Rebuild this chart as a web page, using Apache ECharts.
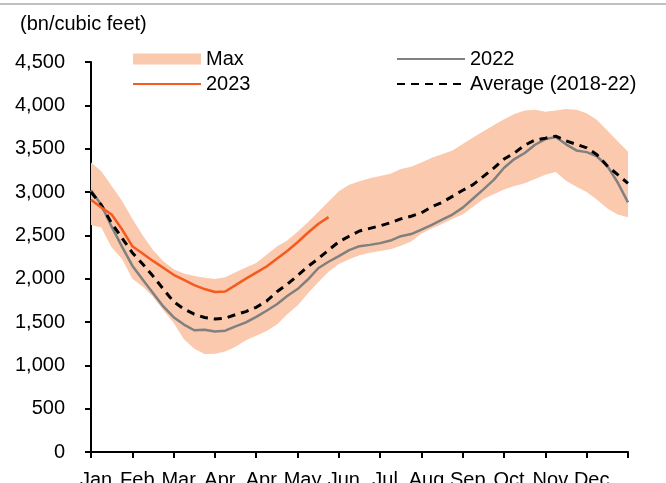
<!DOCTYPE html>
<html>
<head>
<meta charset="utf-8">
<script src="https://cdn.jsdelivr.net/npm/echarts@6/dist/echarts.min.js"></script>
<style>
html,body{margin:0;padding:0;background:#fff;}
#chart{width:666px;height:483px;}
</style>
</head>
<body>
<div id="chart"></div>
<script>
// weekly index (0..52), ticks every 4 weeks
const weeks = ['0','1','2','3','4','5','6','7','8','9','10','11','12','13','14','15','16','17','18','19','20','21','22','23','24','25','26','27','28','29','30','31','32','33','34','35','36','37','38','39','40','41','42','43','44','45','46','47','48','49','50','51','52'];
const monthLabels = ['Jan','Feb','Mar','Apr','Apr','May','Jun','Jul','Aug','Sep','Oct','Nov','Dec',''];
const yTickLabels = ['0','500','1,000','1,500','2,000','2,500','3,000','3,500','4,000','4,500'];

const maxVals = [3340,3240,3070,2900,2690,2500,2330,2200,2110,2060,2030,2010,1995,2015,2075,2130,2180,2275,2370,2440,2540,2650,2770,2890,3010,3085,3125,3160,3185,3210,3265,3290,3340,3395,3435,3480,3555,3630,3700,3770,3840,3900,3940,3950,3925,3940,3958,3950,3910,3830,3710,3585,3465];
const minVals = [2620,2590,2360,2230,2000,1910,1790,1635,1490,1300,1190,1130,1135,1160,1215,1290,1340,1395,1470,1590,1690,1830,1960,2080,2170,2225,2270,2300,2320,2340,2380,2430,2520,2580,2630,2690,2740,2830,2920,2975,3030,3070,3100,3150,3200,3230,3130,3060,3000,2910,2810,2740,2710];
const vals2022 = [3020,2850,2600,2370,2150,1990,1835,1680,1555,1470,1405,1410,1390,1400,1450,1495,1560,1630,1705,1800,1880,1990,2120,2195,2260,2330,2375,2390,2410,2440,2490,2515,2565,2620,2680,2740,2820,2925,3030,3140,3280,3380,3450,3545,3610,3635,3550,3480,3460,3410,3300,3110,2880];
const valsAvg = [3000,2850,2640,2470,2300,2170,2030,1880,1735,1650,1590,1552,1535,1545,1585,1620,1670,1740,1850,1935,2035,2140,2230,2330,2425,2490,2550,2580,2610,2645,2690,2720,2760,2830,2880,2950,3020,3085,3180,3275,3380,3450,3540,3600,3620,3645,3590,3550,3510,3430,3300,3200,3100];
const vals2023 = [2910,2820,2740,2570,2375,2290,2205,2125,2045,1985,1925,1880,1847,1852,1925,2000,2070,2140,2230,2320,2420,2530,2630,2710];

const FONT = '"Liberation Sans", Arial, sans-serif';
const BAND = '#FBC9AE';

const chart = echarts.init(document.getElementById('chart'), null, {renderer: 'canvas'});
chart.setOption({
  animation: false,
  backgroundColor: '#ffffff',
  textStyle: {fontFamily: FONT},
  grid: {left: 91, right: 38, top: 62, bottom: 31, containLabel: false, outerBoundsMode: 'none'},
  graphic: [
    {type: 'rect', left: 0, top: 3, shape: {width: 666, height: 2}, style: {fill: '#c0c0c0'}, silent: true},
    {type: 'text', left: 20, top: 14, style: {text: '(bn/cubic feet)', fontSize: 20, fontFamily: FONT, fill: '#000'}}
  ],
  legend: [
    {
      data: [{name: 'Max', icon: 'rect'}, {name: '2023', itemStyle: {opacity: 0}}],
      orient: 'vertical', left: 127, top: 44, itemWidth: 68, itemHeight: 11, itemGap: 5,
      textStyle: {fontSize: 20, color: '#000', fontFamily: FONT}
    },
    {
      data: [{name: '2022', itemStyle: {opacity: 0}}, {name: 'Average (2018-22)', itemStyle: {opacity: 0}}],
      orient: 'vertical', left: 391, top: 44, itemWidth: 68, itemHeight: 11, itemGap: 5,
      textStyle: {fontSize: 20, color: '#000', fontFamily: FONT}
    }
  ],
  xAxis: {
    type: 'category', data: weeks, boundaryGap: false,
    axisLine: {show: true, onZero: false, lineStyle: {color: '#000', width: 2}},
    axisTick: {show: true, interval: 3, length: 6, lineStyle: {color: '#000', width: 2}},
    splitLine: {show: false},
    axisLabel: {
      interval: 3, margin: 18, fontSize: 20, color: '#000', fontFamily: FONT,
      padding: [0, 0, 0, 10],
      formatter: (v, idx) => monthLabels[Math.round(idx / 4)] || ''
    }
  },
  yAxis: {
    type: 'value', min: 0, max: 4500, interval: 500,
    axisLine: {show: true, lineStyle: {color: '#000', width: 2}},
    axisTick: {show: true, length: 6, lineStyle: {color: '#000', width: 2}},
    splitLine: {show: false},
    axisLabel: {
      margin: 26, fontSize: 20, color: '#000', fontFamily: FONT,
      formatter: (v) => yTickLabels[Math.round(v / 500)]
    }
  },
  series: [
    {
      name: 'Min', type: 'line', stack: 'band', data: minVals,
      symbol: 'none', lineStyle: {width: 0, opacity: 0}, areaStyle: {opacity: 0}, silent: true
    },
    {
      name: 'Max', type: 'line', stack: 'band', data: maxVals.map((v, i) => v - minVals[i]),
      symbol: 'none', color: BAND, itemStyle: {color: BAND},
      lineStyle: {width: 0, opacity: 0}, areaStyle: {color: BAND, opacity: 1}
    },
    {
      name: '2022', type: 'line', data: vals2022, symbol: 'none',
      color: '#808080', lineStyle: {color: '#808080', width: 2.5}
    },
    {
      name: 'Average (2018-22)', type: 'line', data: valsAvg, symbol: 'none',
      color: '#000', lineStyle: {color: '#000', width: 3, type: [8, 6]}
    },
    {
      name: '2023', type: 'line', data: vals2023, symbol: 'none',
      color: '#F55A1E', lineStyle: {color: '#F55A1E', width: 2.5}
    }
  ]
});
</script>
</body>
</html>
